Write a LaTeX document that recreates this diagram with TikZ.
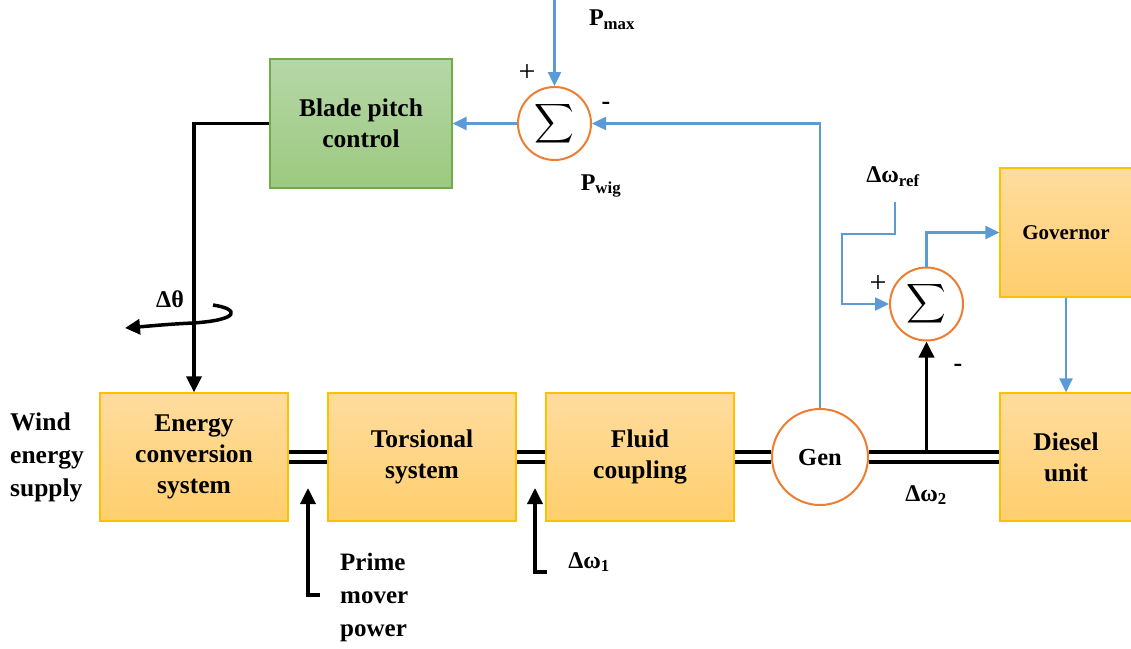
\documentclass[tikz,border=0pt]{standalone}
\usepackage{fontspec}
\setmainfont{Liberation Serif}
\usetikzlibrary{arrows.meta}
\definecolor{boxtop}{HTML}{FFDC9E}
\definecolor{boxbot}{HTML}{FFCF6E}
\definecolor{boxline}{HTML}{FFC000}
\definecolor{gtop}{HTML}{B6D7A8}
\definecolor{gbot}{HTML}{9CC97F}
\definecolor{gline}{HTML}{70AD47}
\definecolor{sumline}{HTML}{ED7D31}
\definecolor{fbblue}{HTML}{5B9BD5}
\begin{document}
\begin{tikzpicture}[x=1pt,y=-1pt,
  obox/.style={draw=boxline, line width=1.2pt, top color=boxtop, bottom color=boxbot,
    minimum width=188pt, minimum height=128pt, align=center, inner sep=0pt,
    font=\fontsize{25.5}{31}\selectfont\bfseries},
  gbox/.style={obox, draw=gline, top color=gtop, bottom color=gbot},
  sumnode/.style={circle, draw=sumline, line width=2pt, fill=white, minimum size=73pt, inner sep=0pt},
  lbl/.style={font=\fontsize{24}{30}\selectfont\bfseries, inner sep=0pt},
  sgn/.style={font=\fontsize{30}{30}\selectfont, inner sep=0pt},
  bluearrow/.style={draw=fbblue, line width=2.4pt, -{Triangle[length=14pt,width=13pt]}},
  blkarrow/.style={draw=black, line width=3.5pt, -{Triangle[length=16pt,width=15pt]}},
  shaft/.style={draw=black, line width=4pt, double=white, double distance=6pt}
]
\useasboundingbox (0,0) rectangle (1131,648);
\clip (0,0) rectangle (1131,648);

% blocks
\node[gbox] (bpc) at (361,123.5) [minimum width=182pt, minimum height=129pt] {Blade pitch\\control};
\node[obox] (ecs) at (194,457) {Energy\\conversion\\system};
\node[obox] (tor) at (422,457) {Torsional\\system};
\node[obox] (flu) at (640,457) {Fluid\\coupling};
\node[obox] (die) at (1066,457) [minimum width=132pt] {Diesel\\unit};
\node[obox] (gov) at (1066,232.5) [minimum width=132pt, minimum height=129pt, font=\fontsize{21}{25}\selectfont\bfseries] {Governor};

% summing junctions and generator
\node[sumnode] (s1) at (554.5,123.5) {\raisebox{-2pt}{\scalebox{2.75}{$\displaystyle\sum$}}};
\node[sumnode] (s2) at (926.5,304) {\raisebox{-2pt}{\scalebox{2.75}{$\displaystyle\sum$}}};
\node[sumnode, minimum size=96pt, font=\fontsize{24.5}{24}\selectfont\bfseries] (gen) at (820,457) {Gen};

% shafts
\draw[shaft] (ecs.east) -- (tor.west);
\draw[shaft] (tor.east) -- (flu.west);
\draw[shaft] (flu.east) -- (gen.west);
\draw[shaft] (gen.east) -- (die.west);

% text labels
\node[lbl, anchor=west, align=left, font=\fontsize{25.5}{33}\selectfont\bfseries] (wind) at (10,457) {Wind\\energy\\supply};
\node[lbl, anchor=west, align=left, font=\fontsize{25}{33}\selectfont\bfseries] (pmp) at (340,597) {Prime\\mover\\power};
\node[lbl] (pmax) at (612,20) {P\textsubscript{max}};
\node[lbl] (pwig) at (601,186) {P\textsubscript{wig}};
\node[lbl] (wref) at (893,177) {Δω\textsubscript{ref}};
\node[lbl] (w2) at (926,495) {Δω\textsubscript{2}};
\node[lbl] (w1) at (589,562) {Δω\textsubscript{1}};
\node[lbl] (dth) at (170,299) {Δθ};
\node[sgn] (p1) at (527,73) {+};
\node[sgn, font=\fontsize{26}{26}\selectfont\bfseries] (m1) at (606,106) {-};
\node[sgn] (p2) at (878,284) {+};
\node[sgn, font=\fontsize{26}{26}\selectfont\bfseries] (m2) at (958,368) {-};

% free ends
\coordinate (pmaxin) at (554.5,0);
\coordinate (wrefin) at (895,202);
\coordinate (wrefbend) at (842,234);
\coordinate (pmfoot) at (320,595);
\coordinate (pmtip) at (308,488);
\coordinate (w1foot) at (547,572);
\coordinate (w1tip) at (535,488);
\coordinate (tap) at (926.5,452);

% blue signal lines
\draw[bluearrow] (pmaxin) -- (s1.north);
\draw[bluearrow] (s1.west) -- (bpc.east);
\draw[bluearrow] (gen.north) |- (s1.east);
\draw[bluearrow] (wrefin) |- (wrefbend) |- (s2.west);
\draw[bluearrow] (s2.north) |- (gov.west);
\draw[bluearrow] (gov.south) -- (die.north);

% black lines
\draw[blkarrow] (bpc.west) -| (ecs.north);
\draw[blkarrow] (pmfoot) -- (pmtip |- pmfoot) -- (pmtip);
\draw[blkarrow] (w1foot) -- (w1tip |- w1foot) -- (w1tip);
\draw[blkarrow] (tap) -- (s2.south);

% rotation arrow around the pitch shaft
\draw[draw=black, line width=3.5pt, -{Triangle[length=15pt,width=15pt]}]
  (213,305) .. controls (240,309) and (240,320) .. (193,323)
  .. controls (170,324) and (150,326) .. (125,328);
\end{tikzpicture}
\end{document}
